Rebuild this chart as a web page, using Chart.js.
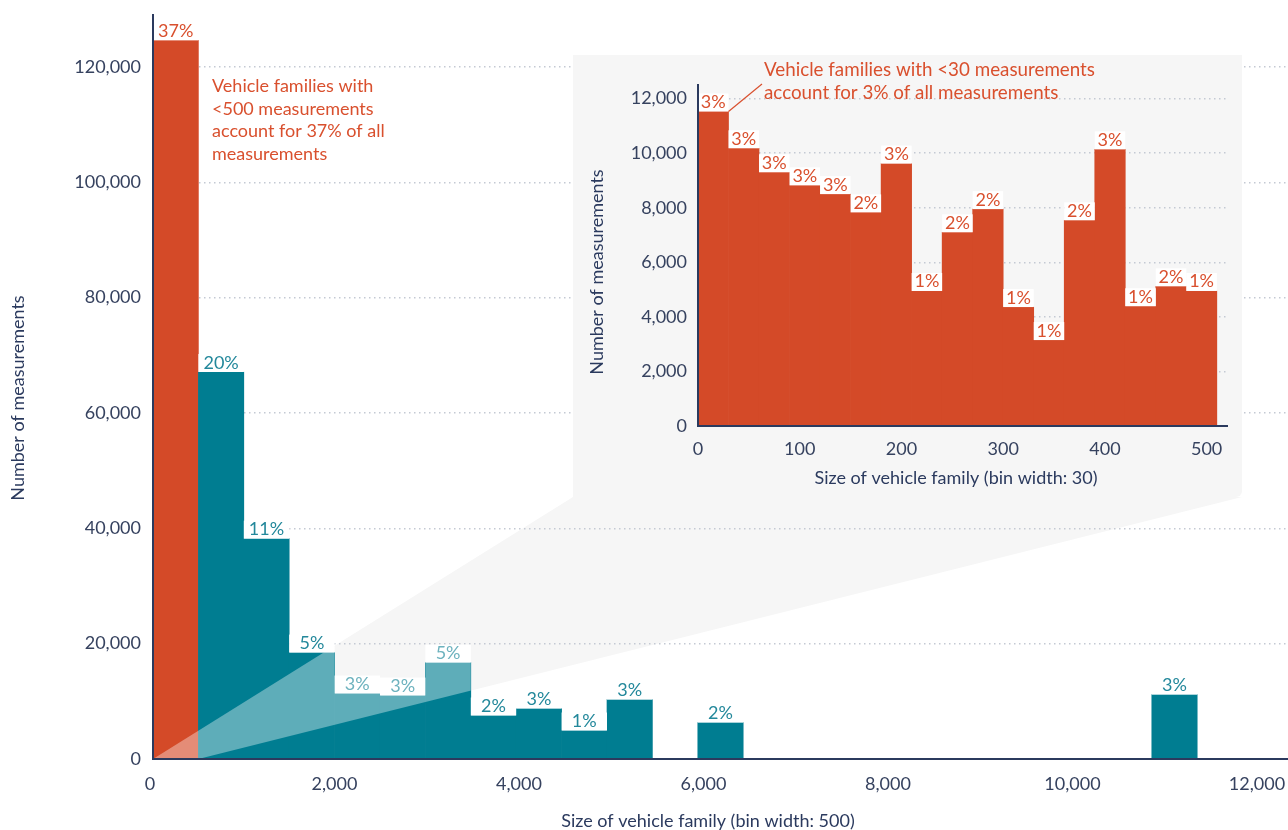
<!DOCTYPE html>
<html>
<head>
<meta charset="utf-8">
<script src="https://cdn.jsdelivr.net/npm/chart.js@4/dist/chart.umd.min.js"></script>
<style>
html,body{margin:0;padding:0;background:#ffffff;}
#wrap{position:relative;width:1288px;height:830px;overflow:hidden;}
#main{position:absolute;left:0;top:0;}
#panel{position:absolute;background:#f6f6f6;border-bottom-right-radius:6px;}
#inset{position:absolute;left:0;top:0;}
</style>
</head>
<body>
<div id="wrap">
  <canvas id="main" width="1288" height="830"></canvas>
  <div id="panel"><canvas id="inset" width="669" height="442"></canvas></div>
</div>
<script>
// ---------------- DATA ----------------
// Main histogram (bin width 500)
const mainBinWidth = 500;
const mainBinStarts = [0, 500, 1000, 1500, 2000, 2500, 3000, 3500, 4000, 4500, 5000, 6000, 11000];
const mainCounts    = [124600, 67100, 38200, 18450, 11350, 11000, 16700, 7540, 8750, 4940, 10300, 6320, 11170];
const mainShares    = ['37%', '20%', '11%', '5%', '3%', '3%', '5%', '2%', '3%', '1%', '3%', '2%', '3%'];
const mainXTicks = [0, 2000, 4000, 6000, 8000, 10000, 12000];
const mainYTicks = [0, 20000, 40000, 60000, 80000, 100000, 120000];

// Inset histogram (bin width 30)
const insetBinWidth = 30;
const insetBinStarts = [0, 30, 60, 90, 120, 150, 180, 210, 240, 270, 300, 330, 360, 390, 420, 450, 480];
const insetCounts    = [11530, 10180, 9300, 8820, 8500, 7830, 9620, 4950, 7100, 7950, 4360, 3150, 7540, 10140, 4390, 5120, 4950];
const insetShares    = ['3%', '3%', '3%', '3%', '3%', '2%', '3%', '1%', '2%', '2%', '1%', '1%', '2%', '3%', '1%', '2%', '1%'];
const insetXTicks = [0, 100, 200, 300, 400, 500];
const insetYTicks = [0, 2000, 4000, 6000, 8000, 10000, 12000];

// Text
const mainNote  = ['Vehicle families with', '<500 measurements', 'account for 37% of all', 'measurements'];
const insetNote = ['Vehicle families with <30 measurements', 'account for 3% of all measurements'];
const mainXTitle  = 'Size of vehicle family (bin width: 500)';
const insetXTitle = 'Size of vehicle family (bin width: 30)';
const yTitle = 'Number of measurements';

// ---------------- STYLE ----------------
const FONT = 'Lato, "Open Sans", sans-serif';
const NAVY = '#2b3a5e';
const TICKC = '#36425f';
const RED = '#d44a28';
const RED_TEXT = '#d9502e';
const TEAL = '#007d91';
const TEAL_TEXT = '#23889b';
const TEAL_LIGHT_TEXT = '#6db2be';
const GRID = '#c4c9d3';
const PANEL_BG = '#f6f6f6';
const PANEL = {left: 573, top: 55, width: 669, height: 442};

const panelDiv = document.getElementById('panel');
panelDiv.style.left = PANEL.left + 'px';
panelDiv.style.top = PANEL.top + 'px';
panelDiv.style.width = PANEL.width + 'px';
panelDiv.style.height = PANEL.height + 'px';

const fmt = v => Number(v).toLocaleString('en-US');

function conePoly(chart) {
  const xs = chart.scales.x, ys = chart.scales.y;
  const y0 = ys.getPixelForValue(0);
  const bottom = PANEL.top + PANEL.height;
  return [
    [xs.getPixelForValue(0), y0],
    [PANEL.left, bottom],
    [PANEL.left + PANEL.width, bottom],
    [xs.getPixelForValue(mainBinWidth), y0]
  ];
}
function tracePoly(ctx, poly) {
  ctx.beginPath();
  poly.forEach((p, i) => i ? ctx.lineTo(p[0], p[1]) : ctx.moveTo(p[0], p[1]));
  ctx.closePath();
}
function inPoly(x, y, poly) {
  let inside = false;
  for (let i = 0, j = poly.length - 1; i < poly.length; j = i++) {
    const [xi, yi] = poly[i], [xj, yj] = poly[j];
    if (((yi > y) !== (yj > y)) && (x < (xj - xi) * (y - yi) / (yj - yi) + xi)) inside = !inside;
  }
  return inside;
}
function drawBarLabel(ctx, el, text, color, size) {
  const {x, y, width} = el.getProps(['x', 'y', 'width'], true);
  ctx.fillStyle = '#ffffff';
  ctx.fillRect(x - width / 2, y - 18, width, 18);
  ctx.fillStyle = color;
  ctx.font = size + 'px ' + FONT;
  ctx.textAlign = 'center';
  ctx.textBaseline = 'alphabetic';
  ctx.fillText(text, x, y - 3.5);
}
function noPad(s) { s.paddingLeft = 0; s.paddingRight = 0; s.paddingTop = 0; s.paddingBottom = 0; }

const mainPlugin = {
  id: 'mainDeco',
  beforeDraw(chart) {
    const ctx = chart.ctx;
    ctx.save();
    tracePoly(ctx, conePoly(chart));
    ctx.fillStyle = PANEL_BG;
    ctx.fill();
    ctx.restore();
  },
  afterDatasetsDraw(chart) {
    const ctx = chart.ctx;
    const poly = conePoly(chart);
    const meta = chart.getDatasetMeta(0);
    // lighten the bars inside the zoom cone (one path, one fill)
    ctx.save();
    tracePoly(ctx, poly);
    ctx.clip();
    ctx.beginPath();
    meta.data.forEach(el => {
      const {x, y, width, base} = el.getProps(['x', 'y', 'width', 'base'], true);
      ctx.rect(x - width / 2, y, width, base - y);
    });
    ctx.fillStyle = 'rgba(255,255,255,0.37)';
    ctx.fill();
    ctx.restore();
    // bar labels
    ctx.save();
    meta.data.forEach((el, i) => {
      const {x, y} = el.getProps(['x', 'y'], true);
      let color = i === 0 ? RED_TEXT : TEAL_TEXT;
      if (inPoly(x, y - 9, poly)) { color = TEAL_LIGHT_TEXT; }
      drawBarLabel(ctx, el, mainShares[i], color, 18);
    });
    // annotation
    ctx.fillStyle = RED_TEXT;
    ctx.font = '18px ' + FONT;
    ctx.textAlign = 'left';
    mainNote.forEach((line, i) => ctx.fillText(line, 212, 92 + i * 22.6));
    // axis titles
    ctx.fillStyle = NAVY;
    ctx.font = '18px ' + FONT;
    ctx.textAlign = 'center';
    ctx.textBaseline = 'middle';
    ctx.fillText(mainXTitle, 708, 821);
    ctx.translate(18, 398);
    ctx.rotate(-Math.PI / 2);
    ctx.fillText(yTitle, 0, 0);
    ctx.restore();
  }
};

const insetPlugin = {
  id: 'insetDeco',
  afterDatasetsDraw(chart) {
    const ctx = chart.ctx;
    const meta = chart.getDatasetMeta(0);
    ctx.save();
    meta.data.forEach((el, i) => drawBarLabel(ctx, el, insetShares[i], RED_TEXT, 18));
    // leader line from first bar's top-right corner
    const first = meta.data[0].getProps(['x', 'y', 'width'], true);
    ctx.strokeStyle = RED_TEXT;
    ctx.lineWidth = 1.2;
    ctx.beginPath();
    ctx.moveTo(first.x + first.width / 2, first.y);
    ctx.lineTo(189, 29);
    ctx.stroke();
    ctx.fillStyle = RED_TEXT;
    ctx.font = '18.8px ' + FONT;
    ctx.textAlign = 'left';
    ctx.textBaseline = 'alphabetic';
    insetNote.forEach((line, i) => ctx.fillText(line, 191, 21 + i * 22.6));
    ctx.fillStyle = NAVY;
    ctx.font = '18px ' + FONT;
    ctx.textAlign = 'center';
    ctx.textBaseline = 'middle';
    ctx.fillText(insetXTitle, 383, 423);
    ctx.translate(24, 217);
    ctx.rotate(-Math.PI / 2);
    ctx.fillText(yTitle, 0, 0);
    ctx.restore();
  }
};

const tickFont = {family: FONT, size: 18};
const gridOpts = {color: GRID, lineWidth: 1.5, drawTicks: false};
const borderOpts = {color: NAVY, width: 2, dash: [1.5, 3.5], z: 1};

// ---------------- MAIN CHART ----------------
new Chart(document.getElementById('main'), {
  type: 'bar',
  data: {
    datasets: [{
      data: mainBinStarts.map((s, i) => ({x: s + mainBinWidth / 2, y: mainCounts[i]})),
      backgroundColor: c => c.dataIndex === 0 ? RED : TEAL,
      borderWidth: 0,
      barPercentage: 1,
      categoryPercentage: 1,
      xAxisID: 'x',
      yAxisID: 'y'
    }]
  },
  options: {
    responsive: false,
    animation: false,
    layout: {padding: {top: 15, left: 0, right: 0, bottom: 0}},
    plugins: {legend: {display: false}, tooltip: {enabled: false}},
    scales: {
      x: {
        type: 'linear', display: false, min: 0, max: 12500, offset: false,
        ticks: {stepSize: 500}
      },
      xt: {
        type: 'linear', position: 'bottom', min: 32.5, max: 12336, offset: false,
        grid: {display: false, drawTicks: false},
        border: {color: NAVY, width: 2, z: 1},
        afterBuildTicks: s => { s.ticks = mainXTicks.map(v => ({value: v})); },
        afterFit: s => { s.height = 71; noPad(s); },
        ticks: {font: tickFont, color: TICKC, padding: 14, maxRotation: 0, autoSkip: false, callback: v => fmt(v)}
      },
      y: {
        type: 'linear', position: 'left', min: 0, max: 129000,
        grid: gridOpts,
        border: borderOpts,
        afterBuildTicks: s => { s.ticks = mainYTicks.map(v => ({value: v})); },
        afterFit: s => { s.width = 153; noPad(s); },
        ticks: {font: tickFont, color: TICKC, padding: 12, callback: v => fmt(v)}
      }
    }
  },
  plugins: [mainPlugin]
});

// ---------------- INSET CHART ----------------
new Chart(document.getElementById('inset'), {
  type: 'bar',
  data: {
    datasets: [{
      data: insetBinStarts.map((s, i) => ({x: s + insetBinWidth / 2, y: insetCounts[i]})),
      backgroundColor: RED,
      borderWidth: 0,
      barPercentage: 1,
      categoryPercentage: 1
    }]
  },
  options: {
    responsive: false,
    animation: false,
    layout: {padding: {top: 30, left: 0, right: 15, bottom: 0}},
    plugins: {legend: {display: false}, tooltip: {enabled: false}},
    scales: {
      x: {
        type: 'linear', position: 'bottom', min: 0, max: 520, offset: false,
        grid: {display: false, drawTicks: false},
        border: {color: NAVY, width: 2, z: 1},
        afterBuildTicks: s => { s.ticks = insetXTicks.map(v => ({value: v})); },
        afterFit: s => { s.height = 71; noPad(s); },
        ticks: {font: tickFont, color: TICKC, padding: 12, maxRotation: 0, autoSkip: false, callback: v => fmt(v)}
      },
      y: {
        type: 'linear', position: 'left', min: 0, max: 12500,
        grid: gridOpts,
        border: borderOpts,
        afterBuildTicks: s => { s.ticks = insetYTicks.map(v => ({value: v})); },
        afterFit: s => { s.width = 125; noPad(s); },
        ticks: {font: tickFont, color: TICKC, padding: 11, callback: v => fmt(v)}
      }
    }
  },
  plugins: [insetPlugin]
});
</script>
</body>
</html>
